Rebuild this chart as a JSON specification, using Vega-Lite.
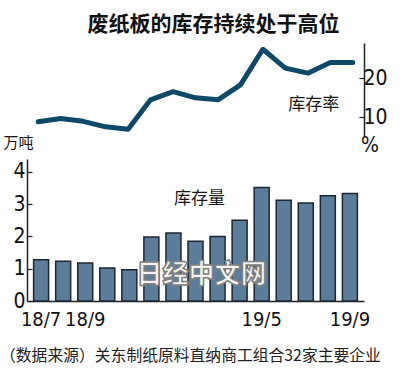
{
  "$schema": "https://vega.github.io/schema/vega-lite/v6.json",
  "background": "white",
  "padding": {"left": 0, "top": 14, "right": 3, "bottom": 3},
  "title": {"text": "废纸板的库存持续处于高位", "font": "Noto Sans CJK SC", "fontSize": 21, "fontWeight": "bold", "color": "#111111", "anchor": "middle", "frame": "group", "dx": 18, "offset": 8},
  "datasets": {
    "main": [
      {"month": "18/7", "rate": 8.9, "volume": 1.28},
      {"month": "18/8", "rate": 9.7, "volume": 1.23},
      {"month": "18/9", "rate": 9.0, "volume": 1.18},
      {"month": "18/10", "rate": 7.6, "volume": 1.02},
      {"month": "18/11", "rate": 7.0, "volume": 0.97},
      {"month": "18/12", "rate": 14.5, "volume": 1.98},
      {"month": "19/1", "rate": 16.6, "volume": 2.11},
      {"month": "19/2", "rate": 15.0, "volume": 1.85},
      {"month": "19/3", "rate": 14.5, "volume": 2.0},
      {"month": "19/4", "rate": 18.3, "volume": 2.5},
      {"month": "19/5", "rate": 27.4, "volume": 3.52},
      {"month": "19/6", "rate": 22.6, "volume": 3.12},
      {"month": "19/7", "rate": 21.3, "volume": 3.04},
      {"month": "19/8", "rate": 24.0, "volume": 3.26},
      {"month": "19/9", "rate": 24.0, "volume": 3.33}
    ],
    "topNotes": [{"month": "19/7", "value": 13.1, "label": "库存率"}],
    "bottomNotes": [{"month": "19/2", "value": 3.15, "label": "库存量"}],
    "mark": [{"month": "19/2", "value": 0.8, "label": "日经中文网"}]
  },
  "config": {
    "view": {"stroke": null},
    "axis": {"grid": false, "domainColor": "#222222", "domainWidth": 1.5, "tickColor": "#222222", "tickWidth": 1.2, "labelColor": "#111111", "labelFont": "Liberation Sans Narrow, DejaVu Sans Condensed, Liberation Sans", "labelFontSize": 20, "labelOverlap": false},
    "axisY": {"labelFontSize": 21, "labelOverlap": false}
  },
  "bounds": "flush",
  "spacing": 22,
  "vconcat": [
    {
      "width": 337,
      "height": 94,
      "layer": [
        {
          "data": {"name": "main"},
          "mark": {"type": "line", "color": "#0e4a68", "strokeWidth": 5, "strokeJoin": "round", "strokeCap": "round"},
          "encoding": {
            "x": {"field": "month", "type": "ordinal", "scale": {"domain": ["18/7","18/8","18/9","18/10","18/11","18/12","19/1","19/2","19/3","19/4","19/5","19/6","19/7","19/8","19/9"], "paddingInner": 0.32, "paddingOuter": 0.3}, "axis": null},
            "y": {"field": "rate", "type": "quantitative", "scale": {"domain": [5, 29], "nice": false, "zero": false},
              "axis": {"orient": "right", "values": [10, 20], "tickSize": -5, "labelPadding": 4, "title": "%", "titleAngle": 0, "titleX": 5.5, "titleY": 102, "titleAlign": "center", "titleBaseline": "middle", "titleFont": "Liberation Sans Narrow, DejaVu Sans Condensed, Liberation Sans", "titleFontSize": 21, "titleFontWeight": "normal", "titleColor": "#111111"}}
          }
        },
        {
          "data": {"name": "topNotes"},
          "mark": {"type": "text", "font": "Noto Sans CJK SC", "fontSize": 17, "color": "#1a1a1a", "dx": 6, "baseline": "middle"},
          "encoding": {
            "x": {"field": "month", "type": "ordinal"},
            "y": {"field": "value", "type": "quantitative"},
            "text": {"field": "label"}
          }
        }
      ]
    },
    {
      "width": 337,
      "height": 142,
      "title": {"text": "（数据来源）关东制纸原料直纳商工组合32家主要企业", "orient": "bottom", "anchor": "start", "frame": "group", "dx": -27, "font": "Noto Sans CJK SC", "fontSize": 15.8, "fontWeight": "normal", "color": "#222222", "offset": 20},
      "layer": [
        {
          "data": {"name": "main"},
          "mark": {"type": "bar", "color": "#5b7d9a", "stroke": "#1c2630", "strokeWidth": 1.5},
          "encoding": {
            "x": {"field": "month", "type": "ordinal", "scale": {"domain": ["18/7","18/8","18/9","18/10","18/11","18/12","19/1","19/2","19/3","19/4","19/5","19/6","19/7","19/8","19/9"], "paddingInner": 0.32, "paddingOuter": 0.3},
              "axis": {"title": null, "labelAngle": 0, "ticks": false, "labelPadding": 8, "labelExpr": "indexof(['18/7','18/9','19/5','19/9'], datum.value) >= 0 ? datum.value : ''"}},
            "y": {"field": "volume", "type": "quantitative", "scale": {"domain": [0, 4.4], "nice": false},
              "axis": {"values": [0, 1, 2, 3, 4], "tickCount": 5, "tickSize": -5, "labelPadding": 7, "title": "万吨", "titleAngle": 0, "titleX": -9, "titleY": -17, "titleAlign": "center", "titleBaseline": "middle", "titleFont": "Noto Sans CJK SC", "titleFontSize": 15, "titleFontWeight": "normal", "titleColor": "#111111"}}
          }
        },
        {
          "data": {"name": "bottomNotes"},
          "mark": {"type": "text", "font": "Noto Sans CJK SC", "fontSize": 17, "color": "#1a1a1a", "dx": 4, "baseline": "middle"},
          "encoding": {
            "x": {"field": "month", "type": "ordinal"},
            "y": {"field": "value", "type": "quantitative", "axis": {"values": [0, 1, 2, 3, 4], "tickCount": 5}},
            "text": {"field": "label"}
          }
        },
        {
          "data": {"name": "mark"},
          "mark": {"type": "text", "font": "Noto Sans CJK SC", "fontSize": 26, "fontWeight": 900, "fill": "#f4f4f4", "stroke": "#808080", "strokeWidth": 1.5, "dx": 6, "baseline": "middle"},
          "encoding": {
            "x": {"field": "month", "type": "ordinal"},
            "y": {"field": "value", "type": "quantitative", "axis": {"values": [0, 1, 2, 3, 4], "tickCount": 5}},
            "text": {"field": "label"}
          }
        }
      ]
    }
  ]
}
